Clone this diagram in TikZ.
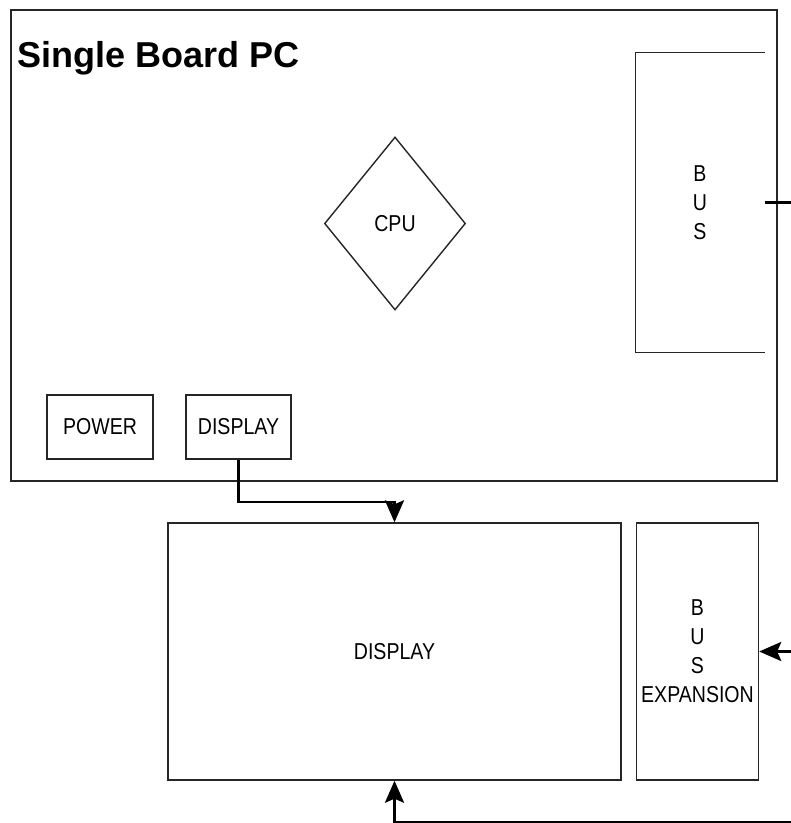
\documentclass[tikz,border=0pt]{standalone}
\usepackage{fontspec}
\setmainfont{Liberation Sans}
\newfontfamily\lblfont[FakeStretch=0.85]{Liberation Sans}
\usetikzlibrary{shapes.geometric,arrows.meta}
\begin{document}
\begin{tikzpicture}[x=1pt,y=-1pt,
  box/.style={draw=black!85,line width=1.4pt,rectangle,inner sep=0pt,
    font=\lblfont\fontsize{23}{29}\selectfont,align=center},
  conn/.style={draw=black,line width=2.8pt},
  tip/.style={-{Stealth[length=22pt,width=19pt,inset=4pt]}}]
\useasboundingbox (0,0) rectangle (791,823);
\fill[white] (0,0) rectangle (791,823);
% board
\node[box,minimum width=766pt,minimum height=471pt] (board) at (394,245.5) {};
\node[anchor=base west,inner sep=0pt,font=\bfseries\fontsize{36}{40}\selectfont] (title) at (17,67) {Single Board PC};
% bus (open on the right)
\node[box,draw=none,minimum width=128pt,minimum height=299pt] (bus) at (700,202.5) {B\\U\\S};
\draw[black!85,line width=1.4pt] (bus.north east) -- (bus.north west) -- (bus.south west) -- (bus.south east);
% cpu
\node[box,shape=diamond,minimum width=141pt,minimum height=173pt] (cpu) at (395,223.5) {CPU};
% small boxes
\node[box,minimum width=106pt,minimum height=64pt] (power) at (100,427) {POWER};
\node[box,minimum width=105pt,minimum height=64pt] (dsmall) at (238.5,427) {DISPLAY};
% lower boxes
\node[box,minimum width=453pt,minimum height=257pt] (display) at (394.5,651.5) {DISPLAY};
\node[box,minimum width=122pt,minimum height=257pt] (busexp) at (697.5,651.5) {B\\U\\S\\EXPANSION};
% connectors
\coordinate (bend) at (394.5,502);
\coordinate (busout) at (791,202.5);
\coordinate (busin) at (791,651.5);
\coordinate (bottom) at (791,822);
\draw[conn,tip] (dsmall.south) |- (bend) -- (display.north);
\draw[conn] (bus.east) -- (busout);
\draw[conn,tip] (busin) -- (busexp.east);
\draw[conn,tip] (bottom) -| (display.south);
\end{tikzpicture}
\end{document}
